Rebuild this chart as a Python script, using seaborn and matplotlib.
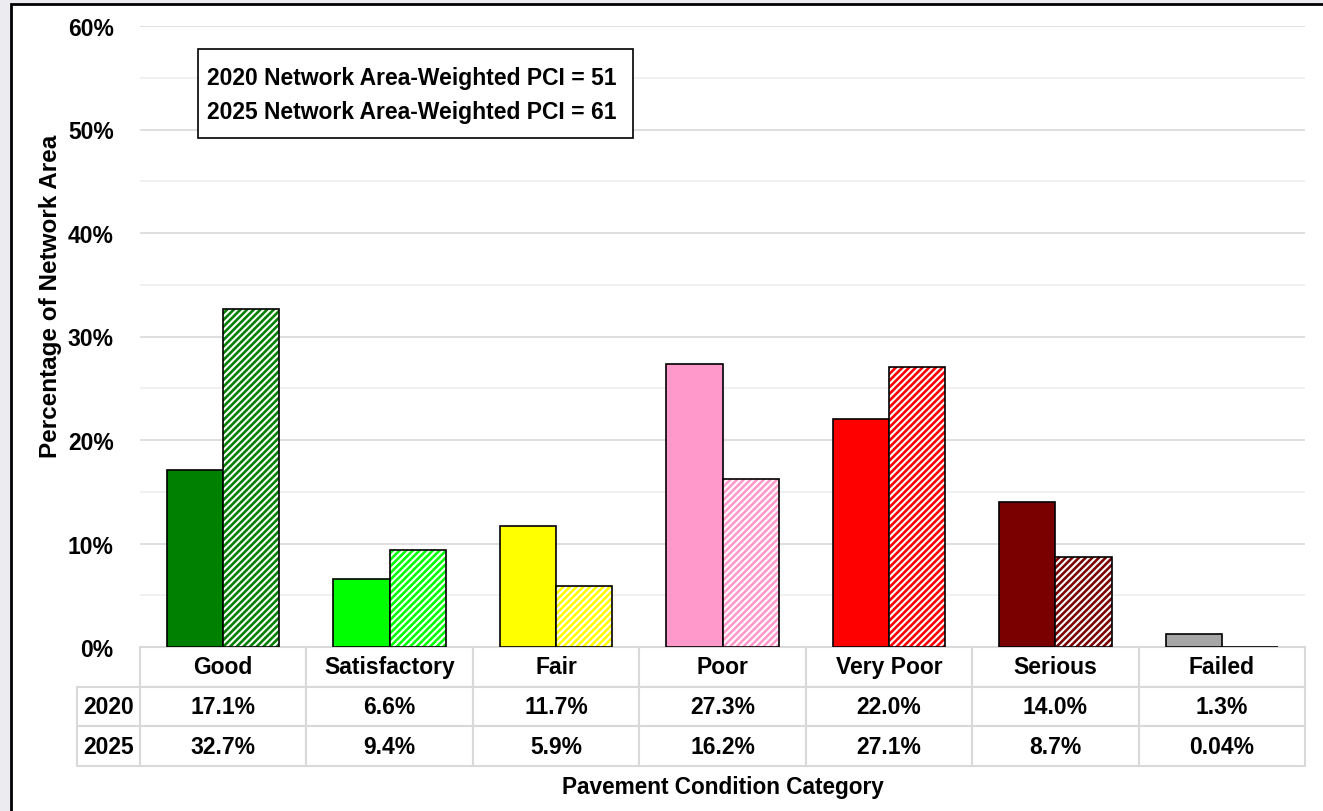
import matplotlib
matplotlib.use('Agg')
import matplotlib.pyplot as plt
from matplotlib.patches import Rectangle
from matplotlib.ticker import MultipleLocator, FuncFormatter
import pandas as pd
import seaborn as sns

# Data
categories = ['Good', 'Satisfactory', 'Fair', 'Poor', 'Very Poor', 'Serious', 'Failed']
pct_2020 = [17.1, 6.6, 11.7, 27.3, 22.0, 14.0, 1.3]
pct_2025 = [32.7, 9.4, 5.9, 16.2, 27.1, 8.7, 0.04]
labels_2020 = ['17.1%', '6.6%', '11.7%', '27.3%', '22.0%', '14.0%', '1.3%']
labels_2025 = ['32.7%', '9.4%', '5.9%', '16.2%', '27.1%', '8.7%', '0.04%']
years = ['2020', '2025']
pci = [51, 61]
colors = ['#008000', '#00ff00', '#ffff00', '#ff99cc', '#ff0000', '#7a0000', '#a6a6a6']

df = pd.DataFrame({
    'category': categories * 2,
    'year': [years[0]] * len(categories) + [years[1]] * len(categories),
    'pct': pct_2020 + pct_2025,
})

sns.set_style('white')
plt.rcParams['font.family'] = ['Liberation Sans', 'DejaVu Sans']
plt.rcParams['font.weight'] = 'bold'
plt.rcParams['text.color'] = 'black'
plt.rcParams['axes.labelcolor'] = 'black'
plt.rcParams['ytick.color'] = 'black'
plt.rcParams['hatch.linewidth'] = 1.5

W, H = 1323, 812
fig = plt.figure(figsize=(W / 100, H / 100), dpi=100, facecolor='#ebebf0')
# white chart area with black frame
fig.patches.append(Rectangle((11 / W, -0.01), 1.0, 1 - 5 / H + 0.01, transform=fig.transFigure,
                             fc='white', ec='black', lw=2, zorder=-1))

ax = fig.add_axes([140 / W, 1 - 648 / H, 1165 / W, 621 / H])
ax.set_facecolor('none')
sns.barplot(data=df, x='category', y='pct', hue='year', width=0.675, ax=ax, legend=False,
            edgecolor='black', linewidth=1.2, saturation=1, errorbar=None)

# 2020 solid, 2025 hatched with white stripes
for bar, c in zip(ax.containers[0], colors):
    bar.set_facecolor(c)
for bar, c in zip(ax.containers[1], colors):
    bar.set_facecolor(c)
    bar.set_hatch('/////')
    bar.set_edgecolor('white')
    bar.set_linewidth(0)
    ax.add_patch(Rectangle(bar.get_xy(), bar.get_width(), bar.get_height(), fill=False,
                           ec='black', lw=1.2, zorder=bar.get_zorder() + 0.1))

ax.set_xlim(-0.5, len(categories) - 0.5)
ax.set_ylim(0, 60)
ax.yaxis.set_major_locator(MultipleLocator(10))
ax.yaxis.set_minor_locator(MultipleLocator(5))
ax.yaxis.set_major_formatter(FuncFormatter(lambda v, p: f'{v:.0f}%'))
ax.grid(which='major', axis='y', color='#d9d9d9', lw=1.2)
ax.grid(which='minor', axis='y', color='#efefef', lw=1.2)
ax.set_axisbelow(True)
ax.tick_params(axis='y', which='both', length=0, pad=19, labelsize=16.5, labelcolor='black')
ax.tick_params(axis='x', length=0)
ax.set_xticklabels([])
for s in ax.spines.values():
    s.set_visible(False)

ax.set_ylabel('Percentage of Network Area', fontsize=17.5, fontweight='bold', color='black')
ax.yaxis.set_label_coords(-0.0764, 0.567)
ax.yaxis.label.set_va('center')
ax.set_xlabel('Pavement Condition Category', fontsize=16.3, fontweight='bold', color='black')
ax.xaxis.set_label_coords(0.5, -0.2254)
ax.xaxis.label.set_va('center')

# data table under the bars
lab_w = 63 / 1165
cell_text = [[''] + categories, [years[0]] + labels_2020, [years[1]] + labels_2025]
tbl = ax.table(cellText=cell_text, colWidths=[lab_w] + [1 / len(categories)] * len(categories),
               cellLoc='center', bbox=[-lab_w, -119 / 621, 1 + lab_w, 119 / 621])
tbl.auto_set_font_size(False)
for (r, c), cell in tbl.get_celld().items():
    cell.set_edgecolor('#d9d9d9')
    cell.set_linewidth(1.5)
    cell.get_text().set_fontsize(16.5)
    cell.get_text().set_fontweight('bold')
    cell.get_text().set_color('black')
    if r == 0 and c == 0:
        cell.visible_edges = ''

# PCI box
ax.add_patch(Rectangle((58 / 1165, 509 / 621), 435 / 1165, 89 / 621, transform=ax.transAxes,
                       fc='white', ec='black', lw=1.2, zorder=5))
ax.text(67 / 1165, 0.8897, '\n'.join(f'{y} Network Area-Weighted PCI = {v}' for y, v in zip(years, pci)),
        transform=ax.transAxes, ha='left', va='center', fontsize=16.5, fontweight='bold',
        color='black', linespacing=1.6, zorder=6)

fig.savefig('out.png', dpi=100, facecolor=fig.get_facecolor())
